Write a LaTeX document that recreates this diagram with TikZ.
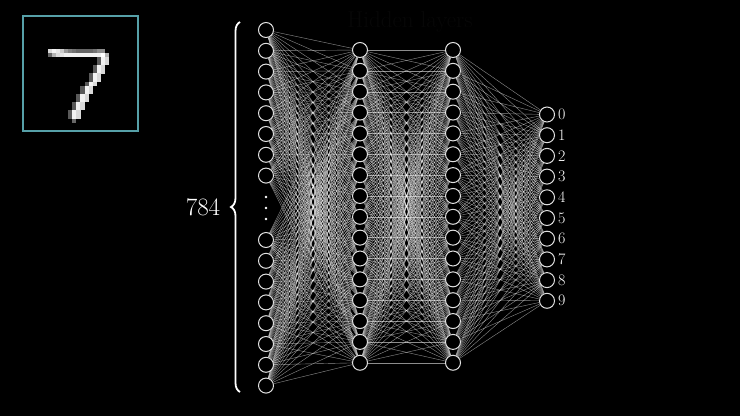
\documentclass[tikz,border=0pt]{standalone}
\usetikzlibrary{decorations.pathreplacing}
\definecolor{rahmen}{RGB}{86,160,168}
\definecolor{schatten}{RGB}{7,7,7}
\pgfdeclarelayer{grund}
\pgfdeclarelayer{kanten}
\pgfsetlayers{grund,kanten,main}
\tikzset{
	neuron/.style={circle, draw=white!88!black, line width=1pt, fill=black, minimum size=15pt, inner sep=0pt},
	kante/.style={white, opacity=0.55, line width=0.4pt},
	pixel/.style={fill=white!#1!black}
}
\begin{document}
\begin{tikzpicture}[x=1pt,y=-1pt]
		\begin{pgfonlayer}{grund}
		\fill[black] (0,0) rectangle (740,416);
		\end{pgfonlayer}
		\draw[rahmen, line width=1.3pt] (23,16) rectangle (138,131);
		\foreach \c/\v in {6/85,7/95,8/90,9/80,10/60,11/50,12/45,13/40,14/40,15/40,16/40,17/45,18/55,19/55}
			\fill[pixel=\v] ({23+4.1*\c},48.8) rectangle +(4.2,4.2);
		\foreach \c/\v in {6/40,7/70,8/85,9/90,10/95,11/95,12/95,13/95,14/95,15/95,16/95,17/95,18/95,19/100,20/70}
			\fill[pixel=\v] ({23+4.1*\c},52.9) rectangle +(4.2,4.2);
		\foreach \r/\c in {10/19,11/19,12/18,13/18,14/17,15/17,16/16,17/15,18/15,19/14,20/14,21/13,22/13,23/12,24/12} {
			\fill[pixel=35] ({23+4.1*(\c-1)},{16+4.1*\r}) rectangle +(4.2,4.2);
			\fill[pixel=95] ({23+4.1*\c},{16+4.1*\r}) rectangle +(4.2,4.2);
			\fill[pixel=85] ({23+4.1*(\c+1)},{16+4.1*\r}) rectangle +(4.2,4.2);
		}
		\fill[pixel=40] ({23+4.1*12},{16+4.1*25}) rectangle +(4.2,4.2);
		\node[text=schatten, font=\fontsize{23}{28}\selectfont] (titel) at (410,22) {Hidden layers};
		\foreach \i in {1,...,8}
			\node[neuron] (in\i) at (266,{30+20.8*(\i-1)}) {};
		\foreach \i in {9,...,16}
			\node[neuron] (in\i) at (266,{240+20.8*(\i-9)}) {};
		\foreach \y in {197,208,219}
			\fill[white] (266,\y) circle (1.3pt);
		\foreach \i in {1,...,16} {
			\node[neuron] (ha\i) at (360,{50+20.85*(\i-1)}) {};
			\node[neuron] (hb\i) at (453,{50+20.85*(\i-1)}) {};
		}
		\foreach \i in {0,...,9} {
			\node[neuron] (out\i) at (547,{114.5+20.7*\i}) {};
			\node[white, anchor=west, inner sep=0pt, font=\fontsize{16}{19}\selectfont] (ziffer\i) at (558,{114.5+20.7*\i}) {\i};
		}
		\begin{pgfonlayer}{kanten}
		\foreach \i in {1,...,16}
			\foreach \j in {1,...,16} {
				\draw[kante] (in\i) -- (ha\j);
				\draw[kante] (ha\i) -- (hb\j);
			}
		\foreach \i in {1,...,16}
			\foreach \j in {0,...,9}
				\draw[kante] (hb\i) -- (out\j);
		\end{pgfonlayer}
		\coordinate (klammeroben) at (240,22);
		\coordinate (klammerunten) at (240,392);
		\draw[white, line width=1.8pt, decorate, decoration={brace, amplitude=9pt}] (klammerunten) -- (klammeroben);
		\node[white, font=\fontsize{25}{30}\selectfont] (anzahl) at (203,207) {784};
\end{tikzpicture}
\end{document}
